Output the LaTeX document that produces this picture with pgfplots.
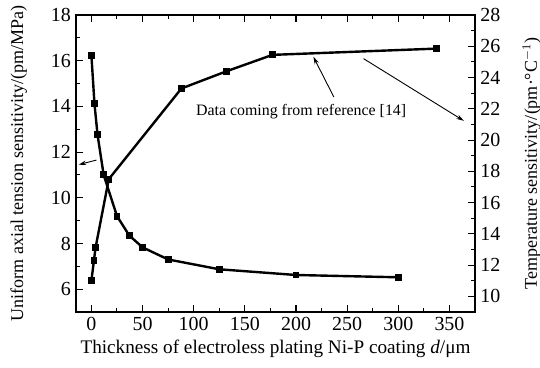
\documentclass[border=0pt]{standalone}
\usepackage{pgfplots}
\pgfplotsset{compat=1.18}
\usepackage{fontspec}
\setmainfont{Liberation Serif}
\usetikzlibrary{arrows.meta}
\begin{document}
\begin{tikzpicture}
\pgfplotsset{
  common/.style={
    scale only axis, width=266pt, height=198pt,
    xmin=-15, xmax=375,
    tick align=inside,
    major tick length=4.5pt, minor tick length=2.8pt,
    every tick/.style={black, line width=0.7pt},
    axis line style={line width=0.8pt},
    tick label style={font=\fontsize{13.3}{15}\selectfont},
    ylabel style={font=\fontsize{12}{14}\selectfont},
    xlabel style={font=\fontsize{12.8}{15}\selectfont},
    /pgf/number format/assume math mode=true,
  }
}
\begin{axis}[common, name=main,
  ymin=5, ymax=18, ytick={6,8,...,18}, minor y tick num=1,
  xtick={0,50,...,350}, minor x tick num=1,
  ytick pos=left,
  xlabel={Thickness of electroless plating Ni-P coating \textit{d}/μm},
  ylabel={Uniform axial tension sensitivity/(pm/MPa)},
  ylabel shift=9pt, xlabel shift=-1pt,
]
\addplot[black, line width=1.6pt, mark=square*, mark size=1.5pt] coordinates {
(0,16.24) (3,14.12) (6,12.76) (12,11.0) (25,9.2) (37,8.35) (50,7.83) (75,7.3) (125,6.87) (200,6.62) (300,6.52)};
\draw[-{Stealth[length=5pt,width=3pt]}, line width=0.6pt] (axis cs:237,14.41) -- (axis cs:217,16.17);
\draw[-{Stealth[length=5pt,width=3pt]}, line width=0.6pt] (axis cs:266,16.09) -- (axis cs:364,13.37);
\draw[-{Stealth[length=5pt,width=3pt]}, line width=0.6pt] (axis cs:4.9,11.65) -- (axis cs:-12.4,11.45);
\node[font=\fontsize{10.6}{12}\selectfont] at (axis cs:205,13.78) {Data coming from reference [14]};
\end{axis}
\begin{axis}[common,
  axis x line=none, axis y line*=right,
  ymin=9, ymax=28, ytick={10,12,...,28}, minor y tick num=1,
  ylabel={Temperature sensitivity/(pm·°C$^{-1}$)},
  ylabel shift=8pt,
]
\addplot[black, line width=1.6pt, mark=square*, mark size=1.5pt] coordinates {
(0,11.0) (2.5,12.3) (4,13.1) (17,17.5) (88,23.3) (132,24.4) (177,25.45) (337,25.85)};
\end{axis}
\pgfresetboundingbox
\path ([shift={(-50.7pt,-36.7pt)}]main.south west) rectangle ([shift={(43.3pt,10pt)}]main.north east);
\end{tikzpicture}
\end{document}
